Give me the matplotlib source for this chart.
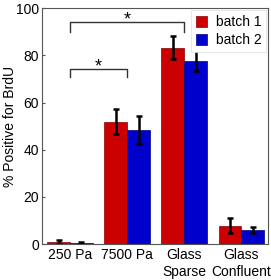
import numpy as np
import matplotlib.pyplot as plt

plt.rcParams['font.family'] = 'Liberation Sans'

categories = ['250 Pa', '7500 Pa', 'Glass\nSparse', 'Glass\nConfluent']
batch1 = [0.8, 51.8, 83.2, 7.8]
batch1_err = [0.8, 5.3, 4.8, 3.2]
batch2 = [0.4, 48.3, 77.8, 5.9]
batch2_err = [0.4, 6.0, 4.6, 1.3]

x = np.arange(len(categories))
w = 0.4
fs = 10

fig = plt.figure(figsize=(2.71, 2.80), dpi=100)
ax = fig.add_axes([0.155, 0.128, 0.835, 0.843])

ax.bar(x - w/2, batch1, w, color='#cc0000', edgecolor='#880000', linewidth=0.5, label='batch 1')
ax.bar(x + w/2, batch2, w, color='#0000cc', edgecolor='#000088', linewidth=0.5, label='batch 2')
ax.errorbar(x - w/2, batch1, yerr=batch1_err, fmt='none', ecolor='black', elinewidth=1.8, capsize=2.5, capthick=1.8)
ax.errorbar(x + w/2, batch2, yerr=batch2_err, fmt='none', ecolor='black', elinewidth=1.8, capsize=2.5, capthick=1.8)

# significance brackets
def bracket(x0, x1, y, h):
    ax.plot([x0, x0, x1, x1], [y - h, y, y, y - h], color='#333333', lw=1)
    ax.text((x0 + x1) / 2, y + 1.0, '*', ha='center', va='center', fontsize=13)

bracket(0, 1, 74, 3)
bracket(0, 2, 94, 4)

ax.set_xlim(-0.49, 3.47)
ax.set_ylim(0, 100)
ax.set_yticks([0, 20, 40, 60, 80, 100])
ax.set_xticks(x)
ax.set_xticklabels(categories)
ax.tick_params(direction='in', length=2, labelsize=fs, color='#555555', pad=2)
ax.tick_params(axis='x', length=0, pad=3)
for s in ax.spines.values():
    s.set_color('#555555')
ax.set_ylabel('% Positive for BrdU', fontsize=fs)
ax.yaxis.set_label_coords(-0.11, 0.5)

leg = ax.legend(loc='upper right', fontsize=fs, handlelength=0.8, handleheight=0.8,
                handletextpad=0.6, borderaxespad=0.15, fancybox=False, framealpha=1,
                labelspacing=0.3, borderpad=0.35)
leg.get_frame().set_edgecolor('#dddddd')
leg.get_frame().set_linewidth(0.5)

fig.savefig('out.png', dpi=100)
